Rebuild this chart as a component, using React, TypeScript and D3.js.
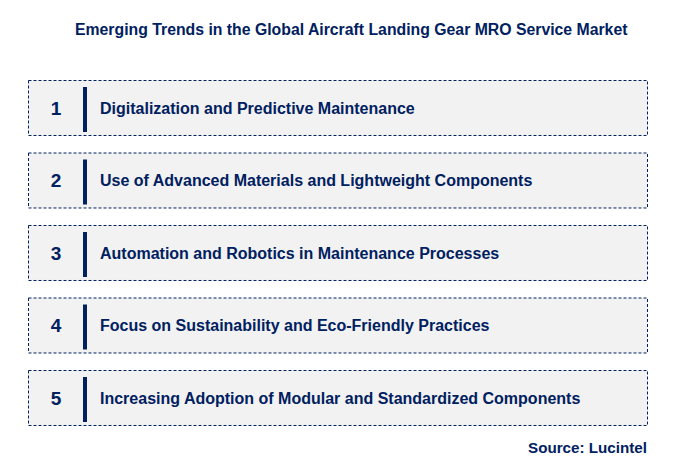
import * as d3 from 'd3';
import { useEffect, useRef } from 'react';

const NAVY = '#002060';
const FILL = '#f2f2f2';

const TITLE = 'Emerging Trends in the Global Aircraft Landing Gear MRO Service Market';
const SOURCE = 'Source: Lucintel';
const ranks = ['1', '2', '3', '4', '5'];
const trends = [
    'Digitalization and Predictive Maintenance',
    'Use of Advanced Materials and Lightweight Components',
    'Automation and Robotics in Maintenance Processes',
    'Focus on Sustainability and Eco-Friendly Practices',
    'Increasing Adoption of Modular and Standardized Components',
];

export default function App() {
    const ref = useRef<SVGSVGElement>(null);

    useEffect(() => {
        const width = 674;
        const height = 471;
        const svg = d3.select(ref.current)
            .attr('viewBox', `0 0 ${width} ${height}`)
            .attr('width', width)
            .attr('height', height);
        svg.selectAll('*').remove();

        const font = 'Liberation Sans, Arial, sans-serif';

        //title
        svg.append('text')
            .attr('x', 75)
            .attr('y', 35)
            .attr('font-family', font)
            .attr('font-weight', 'bold')
            .attr('font-size', 15.8)
            .attr('fill', NAVY)
            .text(TITLE);

        const yScale = d3.scaleBand<string>()
            .domain(ranks)
            .range([80, 425])
            .paddingInner(0.2414)
            .paddingOuter(0);
        const bh = yScale.bandwidth();

        const rows = svg.append('g').attr('class', 'rows')
            .selectAll('g')
            .data(ranks.map((r, i) => ({ rank: r, label: trends[i] })))
            .join('g')
            .attr('transform', (d) => `translate(0, ${yScale(d.rank)})`);

        rows.append('rect')
            .attr('x', 28.5)
            .attr('y', 0.5)
            .attr('width', 619)
            .attr('height', bh)
            .attr('fill', FILL)
            .attr('stroke', NAVY)
            .attr('stroke-width', 1)
            .attr('stroke-dasharray', '3,2');

        rows.append('text')
            .attr('x', 56)
            .attr('y', bh / 2 + 7.5)
            .attr('text-anchor', 'middle')
            .attr('font-family', font)
            .attr('font-weight', 'bold')
            .attr('font-size', 19)
            .attr('fill', NAVY)
            .text((d) => d.rank);

        rows.append('rect')
            .attr('x', 83)
            .attr('y', 7)
            .attr('width', 4)
            .attr('height', bh - 10)
            .attr('fill', NAVY);

        rows.append('text')
            .attr('x', 100)
            .attr('y', bh / 2 + 6.5)
            .attr('font-family', font)
            .attr('font-weight', 'bold')
            .attr('font-size', 16)
            .attr('fill', NAVY)
            .text((d) => d.label);

        svg.append('text')
            .attr('x', 647)
            .attr('y', 453)
            .attr('text-anchor', 'end')
            .attr('font-family', font)
            .attr('font-weight', 'bold')
            .attr('font-size', 15.2)
            .attr('fill', NAVY)
            .text(SOURCE);
    });

    return (
        <svg ref={ref} style={{ position: 'absolute', left: 0, top: 0 }}></svg>
    );
}
